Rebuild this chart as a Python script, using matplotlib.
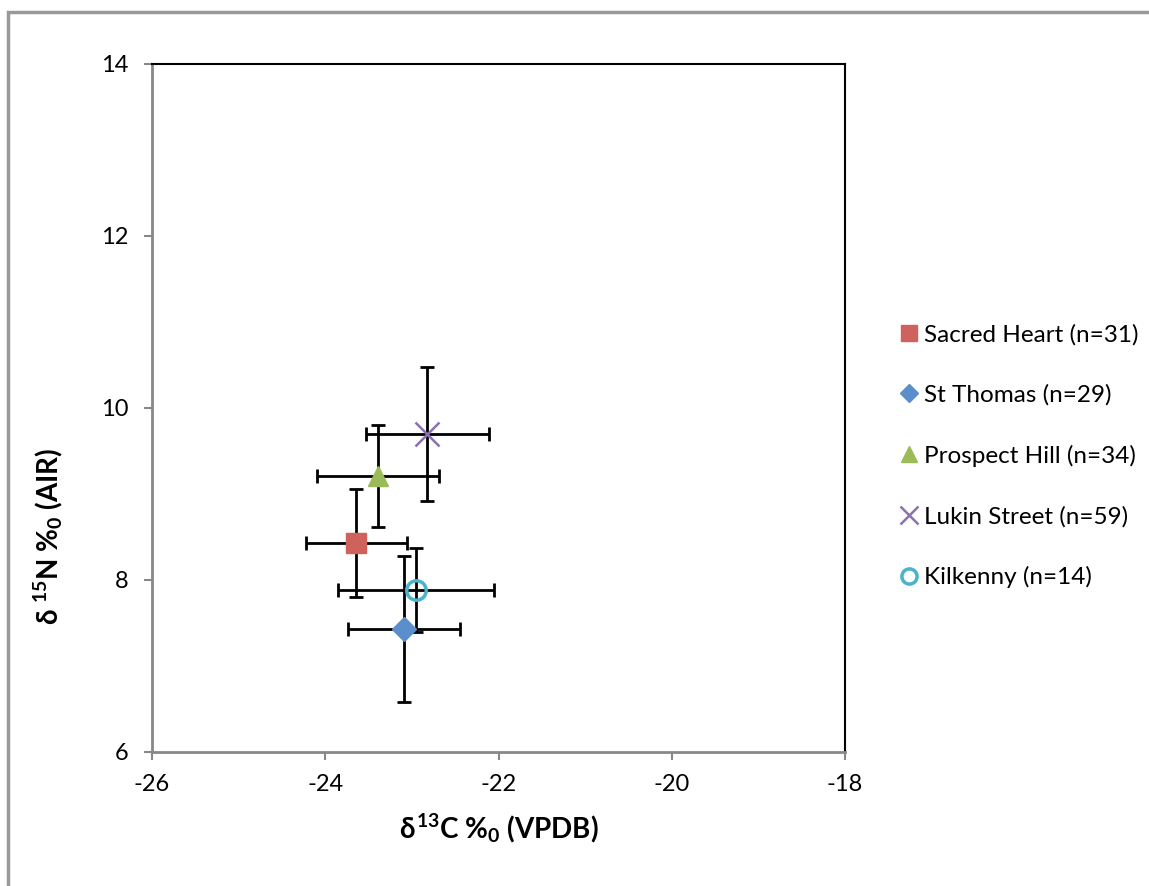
import matplotlib
matplotlib.use('Agg')
from matplotlib import pyplot as plt
from matplotlib.patches import Rectangle

plt.rcParams['font.family'] = ['Lato', 'DejaVu Sans']
plt.rcParams['axes.unicode_minus'] = False
plt.rcParams['mathtext.fontset'] = 'custom'
plt.rcParams['mathtext.rm'] = 'Lato:bold'
plt.rcParams['mathtext.it'] = 'Lato:bold'
plt.rcParams['mathtext.bf'] = 'Lato:bold'
plt.rcParams['mathtext.sf'] = 'Lato:bold'
plt.rcParams['mathtext.fallback'] = 'stixsans'

sites = ['Sacred Heart (n=31)', 'St Thomas (n=29)', 'Prospect Hill (n=34)',
         'Lukin Street (n=59)', 'Kilkenny (n=14)']
d13c = [-23.64, -23.09, -23.39, -22.82, -22.95]
d15n = [8.43, 7.43, 9.21, 9.70, 7.88]
d13c_err = [0.58, 0.65, 0.70, 0.71, 0.90]
d15n_err = [0.63, 0.85, 0.59, 0.78, 0.49]

markers = ['s', 'D', '^', 'x', 'o']
colors = ['#CF625C', '#5B8FCB', '#9BBB59', '#8C72AE', '#4BB4CB']
sizes = [15, 12, 15, 17, 14]

fig = plt.figure(figsize=(11.49, 8.86), dpi=100)
ax = fig.add_axes([152/1149, 1 - 752/886, (845 - 152)/1149, (752 - 64)/886])

# chart-area border like the Excel export (runs off the right/bottom edge)
fig.patches.append(Rectangle((8/1149, -0.5), 1.2, 1.5 - 12/886, transform=fig.transFigure,
                             fill=False, edgecolor='#999999', linewidth=2.5, zorder=0))

for i in range(len(sites)):
    ax.errorbar(d13c[i], d15n[i], xerr=d13c_err[i], yerr=d15n_err[i], fmt='none',
                ecolor='black', elinewidth=2, capsize=5, capthick=2, zorder=2)

for i in range(len(sites)):
    if markers[i] == 'o':
        ax.plot(d13c[i], d15n[i], marker='o', ms=sizes[i], mfc='none', mec=colors[i],
                mew=2.5, ls='none', label=sites[i], zorder=3)
    elif markers[i] == 'x':
        ax.plot(d13c[i], d15n[i], marker='x', ms=sizes[i], color=colors[i],
                mew=1.8, ls='none', label=sites[i], zorder=3)
    else:
        ax.plot(d13c[i], d15n[i], marker=markers[i], ms=sizes[i], color=colors[i],
                mec=colors[i], ls='none', label=sites[i], zorder=3)

ax.set_xlim(-26, -18)
ax.set_ylim(6, 14)
ax.set_xticks([-26, -24, -22, -20, -18])
ax.set_yticks([6, 8, 10, 12, 14])
ax.tick_params(direction='out', length=6, width=1.5, color='#888888',
               labelsize=17)
ax.tick_params(axis='y', pad=11)
ax.tick_params(axis='x', pad=10)

for s in ['left', 'bottom']:
    ax.spines[s].set_color('#888888')
    ax.spines[s].set_linewidth(2)
for s in ['top', 'right']:
    ax.spines[s].set_color('black')
    ax.spines[s].set_linewidth(1.5)

ax.set_xlabel(r'$\delta^{13}$C %$_0$ (VPDB)', fontsize=20, fontweight='bold', labelpad=12)
ax.set_ylabel(r'$\delta$ $^{15}$N %$_0$ (AIR)', fontsize=20, fontweight='bold')
ax.yaxis.set_label_coords(-0.125, 0.314)

leg = ax.legend(loc='center left', bbox_to_anchor=(1.068, 0.43), frameon=False,
                fontsize=17.5, handlelength=0.6, handletextpad=0.3, labelspacing=1.6,
                markerscale=0.78, borderaxespad=0)

fig.savefig('out.png', dpi=100)
plt.close()
